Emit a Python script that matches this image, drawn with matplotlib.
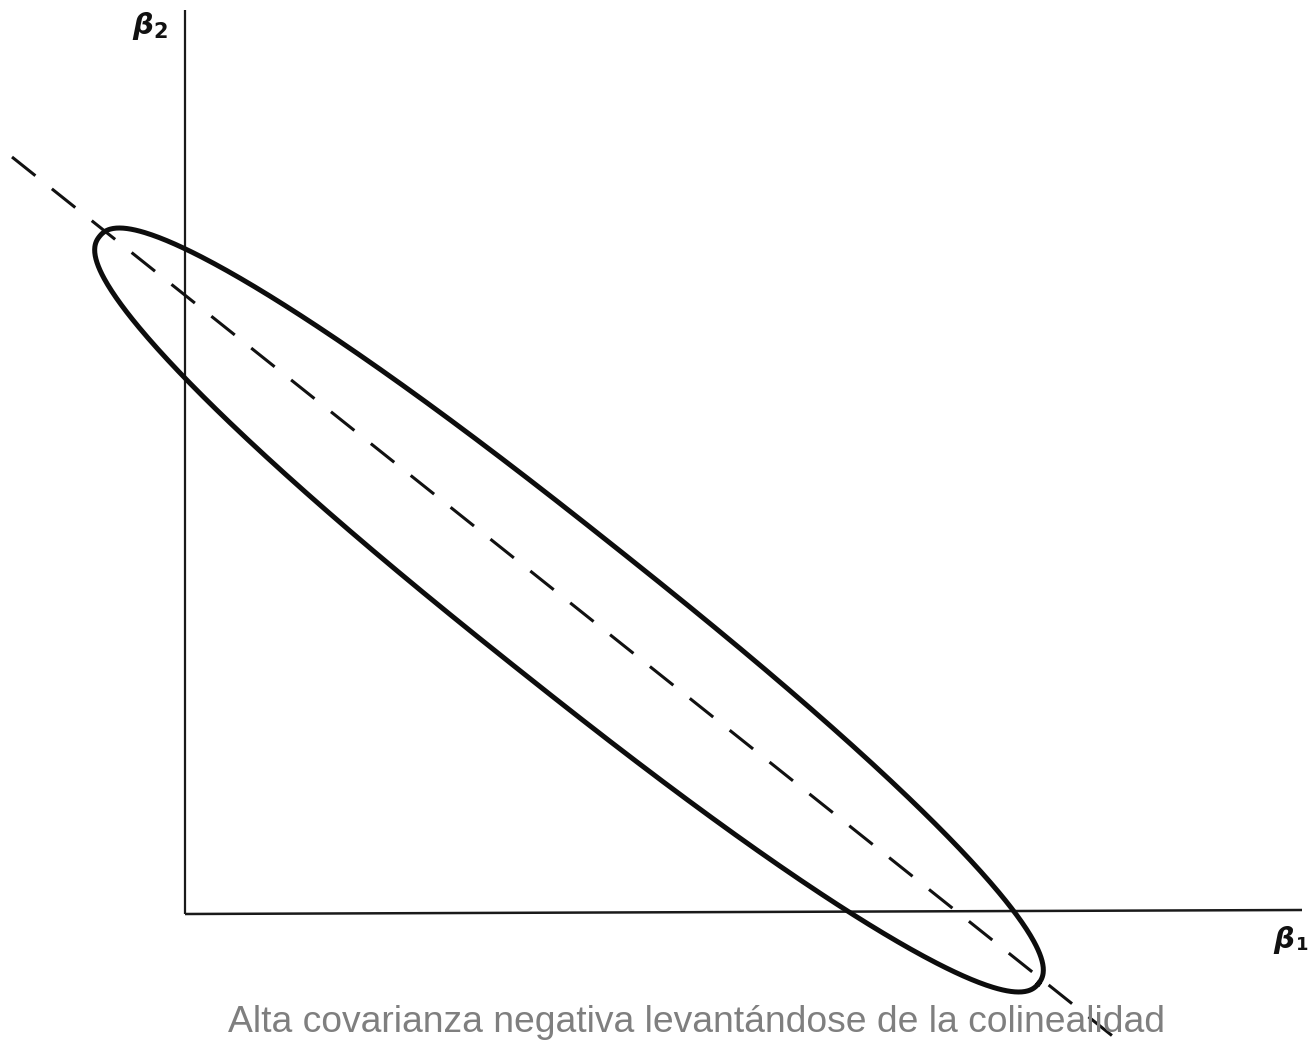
import numpy as np
import matplotlib.pyplot as plt

# Diagram values in picture pixel units (origin at top-left, y down)
axis_origin = (185, 914)
axis_x_end = 1302
axis_x_end_y = 910
axis_y_end = 10

# hand-drawn confidence region: a rounded (super-)ellipse
region_center = (569, 610)
region_half_length = 600
region_half_width = 78
region_angle_deg = 38.5
region_roundness = 2.3

line_x = [12, 1115]
line_y = [157, 1038]

axis_labels = ["β", "β"]
axis_subs = ["2", "1"]
caption = "Alta covarianza negativa levantándose de la colinealidad"

fig = plt.figure(figsize=(13.08, 10.46), dpi=100)
ax = fig.add_axes([0, 0, 1, 1])
ax.set_xlim(0, 1308)
ax.set_ylim(1046, 0)
ax.axis("off")

# axes of the diagram
ax.plot([axis_origin[0], axis_origin[0]], [axis_origin[1], axis_y_end],
        color="#1a1a1a", lw=1.6, solid_capstyle="butt")
ax.plot([axis_origin[0], axis_x_end], [axis_origin[1], axis_x_end_y],
        color="#1a1a1a", lw=1.8, solid_capstyle="butt")

# dashed line
ax.plot(line_x, line_y, color="#111111", lw=2.2, dashes=(9.8, 6.9))

# confidence region outline
t = np.linspace(0, 2 * np.pi, 721)
p = 2.0 / region_roundness
u = region_half_length * np.sign(np.cos(t)) * np.abs(np.cos(t)) ** p
v = region_half_width * np.sign(np.sin(t)) * np.abs(np.sin(t)) ** p
th = np.deg2rad(region_angle_deg)
ex = region_center[0] + u * np.cos(th) - v * np.sin(th)
ey = region_center[1] + u * np.sin(th) + v * np.cos(th)
ax.plot(ex, ey, color="#0d0d0d", lw=3.6, solid_joinstyle="round")

# axis labels
lab_kw = dict(color="#111111", family="DejaVu Sans", fontweight="bold", fontstyle="italic")
ax.text(143, 26, axis_labels[0], fontsize=21, ha="center", va="center", **lab_kw)
ax.text(161, 32, axis_subs[0], fontsize=15, ha="center", va="center",
        color="#111111", fontweight="bold")
ax.text(1284, 940, axis_labels[1], fontsize=21, ha="center", va="center", **lab_kw)
ax.text(1302, 945, axis_subs[1], fontsize=13, ha="center", va="center",
        color="#111111", fontweight="bold")

ax.text(697, 1022, caption, fontsize=26.8, ha="center", va="center",
        color="#7f7f7f", family="Liberation Sans")

fig.savefig("out.png", dpi=100)
